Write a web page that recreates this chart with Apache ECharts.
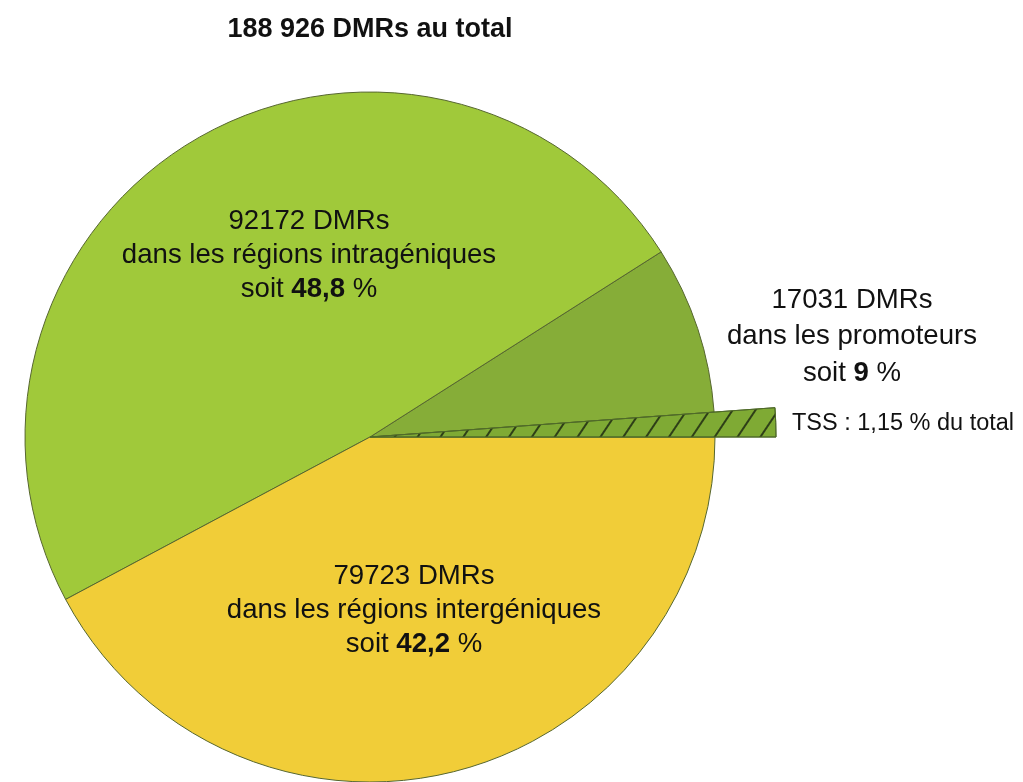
<!DOCTYPE html>
<html>
<head>
<meta charset="utf-8">
<script src="https://cdn.jsdelivr.net/npm/echarts@6/dist/echarts.min.js"></script>
<style>
  html, body { margin: 0; padding: 0; background: #fff; }
  #chart { width: 1023px; height: 782px; }
</style>
</head>
<body>
<div id="chart"></div>
<script>
// segments, counter-clockwise from 3 o'clock
var segNames = ["TSS", "promoteurs", "intragéniques", "intergéniques"];
var segCounts = [2173, 14858, 92172, 79723];
var segColors = ["#7faa34", "#86ad38", "#a0c93a", "#f1cd38"];

// texts
var totalText = "188 926";
var labelCounts = ["92172", "17031", "79723"];
var labelRegions = ["dans les régions intragéniques", "dans les promoteurs", "dans les régions intergéniques"];
var labelPercents = ["48,8", "9", "42,2"];
var tssPercent = "1,15";

var FONT = "Liberation Sans, Arial, sans-serif";
var pieCenter = [370, 437];

var myChart = echarts.init(document.getElementById("chart"));

// centred 3-line label, x = centre, y = top
function makeLabel(i, x, y, lh) {
  return {
    type: "text",
    x: x,
    y: y,
    z: 100,
    style: {
      text: "{n|" + labelCounts[i] + " DMRs}\n{n|" + labelRegions[i] + "}\n{n|soit }{b|" + labelPercents[i] + "}{n| %}",
      align: "center",
      verticalAlign: "top",
      fill: "#111",
      rich: {
        n: { fontFamily: FONT, fontSize: 27.6, lineHeight: lh, color: "#111" },
        b: { fontFamily: FONT, fontSize: 27.6, lineHeight: lh, fontWeight: "bold", color: "#111" }
      }
    }
  };
}

var mainData = segNames.map(function (name, i) {
  return { name: name, value: segCounts[i], itemStyle: { color: segColors[i] } };
});

var tssData = segNames.map(function (name, i) {
  if (i === 0) {
    return {
      name: name,
      value: segCounts[i],
      itemStyle: {
        color: segColors[0],
        borderColor: "#4f6a28",
        borderWidth: 1,
        decal: {
          symbol: "rect",
          symbolSize: 1,
          color: "#2e3f17",
          dashArrayX: [1, 0],
          dashArrayY: [1.5, 17],
          rotation: -Math.PI / 3.2
        }
      }
    };
  }
  return { name: name, value: segCounts[i], itemStyle: { color: "rgba(0,0,0,0)", borderWidth: 0 } };
});

var option = {
  animation: false,
  graphic: [
    {
      type: "text",
      x: 370,
      y: 16,
      z: 100,
      style: {
        text: totalText + " DMRs au total",
        font: "bold 27px " + FONT,
        fill: "#111",
        align: "center",
        verticalAlign: "top"
      }
    },
    makeLabel(0, 309, 204, 34),
    makeLabel(1, 852, 282, 36.5),
    makeLabel(2, 414, 559, 34),
    {
      type: "text",
      x: 792,
      y: 412,
      z: 100,
      style: { text: "TSS : " + tssPercent + " % du total", font: "23.5px " + FONT, fill: "#111" }
    }
  ],
  series: [
    {
      type: "pie",
      center: pieCenter,
      radius: 345,
      startAngle: 0,
      clockwise: false,
      silent: true,
      label: { show: false },
      labelLine: { show: false },
      itemStyle: { borderColor: "#56662f", borderWidth: 1 },
      data: mainData
    },
    {
      type: "pie",
      center: pieCenter,
      radius: 406,
      startAngle: 0,
      clockwise: false,
      silent: true,
      label: { show: false },
      labelLine: { show: false },
      data: tssData
    }
  ]
};

myChart.setOption(option);
</script>
</body>
</html>
